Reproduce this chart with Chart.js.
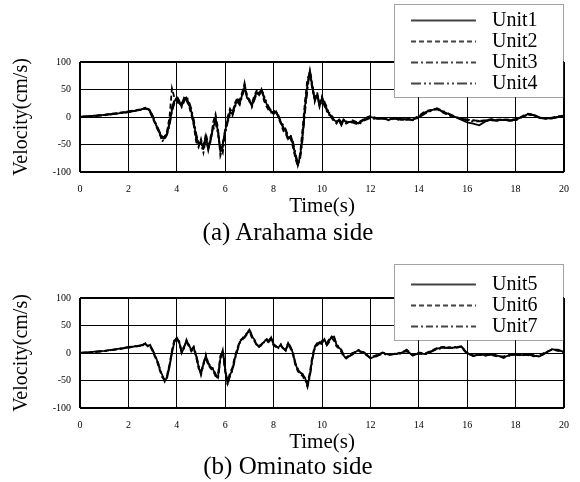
<!DOCTYPE html>
<html>
<head>
<meta charset="utf-8">
<script src="https://cdn.jsdelivr.net/npm/chart.js@4/dist/chart.umd.min.js"></script>
<style>
  body { margin: 0; background: #fff; }
  #page { position: relative; width: 580px; height: 482px; }
  .box { position: absolute; left: 0; width: 580px; }
  .cap { position: absolute; left: 0; width: 576px; text-align: center;
         font: 25px "Liberation Serif", serif; line-height: 30px; color: #000; }
</style>
</head>
<body>
<div id="page">
  <div class="box" style="top:0;height:236px"><canvas id="chartA"></canvas></div>
  <div class="cap" style="top:217px">(a) Arahama side</div>
  <div class="box" style="top:236px;height:246px"><canvas id="chartB"></canvas></div>
  <div class="cap" style="top:451px">(b) Ominato side</div>
</div>
<script>
// time axis (s)
const time = [0,0.5,1,1.5,2,2.5,
  2.6,2.7,2.8,2.9,3,3.1,3.2,3.3,3.4,3.5,
  3.6,3.7,3.8,3.9,4,4.1,4.2,4.3,4.4,4.5,
  4.6,4.7,4.8,4.9,5,5.1,5.2,5.3,5.4,5.5,
  5.6,5.7,5.8,5.9,6,6.1,6.2,6.3,6.4,6.5,
  6.6,6.7,6.8,6.9,7,7.1,7.2,7.3,7.4,7.5,
  7.6,7.7,7.8,7.9,8,8.1,8.2,8.3,8.4,8.5,
  8.6,8.7,8.8,8.9,9,9.1,9.2,9.3,9.4,9.5,
  9.6,9.7,9.8,9.9,10,10.1,10.2,10.3,10.4,10.5,
  10.6,10.7,10.8,10.9,11,
  11.25,11.5,11.75,12,12.25,12.5,12.75,13,13.25,13.5,13.75,14,14.25,14.5,14.75,15,15.25,15.5,
  15.75,16,16.25,16.5,16.75,17,17.25,17.5,17.75,18,18.25,18.5,18.75,19,19.25,19.5,19.75,20];

// Arahama side velocities (cm/s)
const unit1 = [0,2,4,6,9,13,
  15,16,15,10,0,-10,-20,-30,-38,-35,
  -30,-12,12,28,35,25,20,30,35,25,
  10,-10,-35,-50,-45,-55,-35,-60,-40,-20,
  -5,-25,-62,-50,-25,-5,10,5,20,30,
  25,40,55,35,30,20,35,45,40,50,
  35,25,15,10,5,10,0,-10,-20,-25,
  -40,-35,-50,-70,-88,-70,-30,20,60,82,
  55,30,40,20,35,25,15,5,0,-5,
  -10,-5,-15,-5,-10,
  -8,-12,-5,0,-3,-2,-5,-2,-5,-4,-5,0,8,12,15,10,5,0,-5,-10,-12,-15,-8,-5,-6,-5,-6,-5,0,5,3,-2,-3,-2,0,2];
const unit2 = [0,2,4,7,10,14,
  16,15,14,8,-2,-12,-22,-32,-42,-38,
  -25,0,52,35,30,22,25,32,30,20,
  5,-15,-45,-55,-40,-60,-30,-50,-45,-10,
  5,-20,-70,-55,-20,0,15,8,25,35,
  30,45,58,40,28,25,38,48,42,52,
  30,20,12,8,10,12,-2,-12,-25,-30,
  -42,-38,-55,-75,-90,-65,-20,30,70,80,
  50,35,38,25,38,20,10,8,-2,-8,
  -12,-3,-10,-8,-12,
  -6,-10,-3,2,-2,-3,-4,-1,-4,-5,-4,2,10,13,14,8,3,-1,-4,-5,-6,-7,-6,-4,-5,-4,-5,-4,1,6,4,-1,-3,-1,1,3];
const unit3 = [0,1,3,6,9,13,
  15,17,16,12,3,-8,-18,-28,-35,-40,
  -32,-15,10,25,38,30,18,28,38,28,
  15,-5,-30,-48,-50,-52,-40,-58,-35,-25,
  -10,-30,-55,-65,-30,-10,5,2,18,28,
  22,38,50,38,32,18,30,42,45,48,
  38,28,18,12,8,5,3,-8,-15,-22,
  -35,-40,-45,-65,-85,-75,-40,10,50,85,
  60,28,42,18,30,28,18,3,2,-3,
  -8,-8,-12,-3,-8,
  -10,-14,-6,-2,-4,-2,-6,-3,-6,-3,-6,-1,6,11,16,11,6,1,-3,-6,-8,-8,-7,-6,-7,-5,-7,-6,-1,4,3,-1,-2,-3,0,2];
const unit4 = [0,2,4,6,10,13,
  14,16,15,11,1,-10,-20,-30,-45,-36,
  -28,-10,18,30,32,28,22,35,32,22,
  8,-12,-40,-45,-50,-65,-38,-55,-42,-15,
  0,-28,-60,-48,-28,-8,8,6,22,32,
  28,42,62,36,30,22,32,45,38,50,
  40,22,15,10,6,8,2,-10,-18,-28,
  -38,-32,-48,-68,-86,-72,-35,15,58,84,
  55,32,45,22,32,22,12,6,0,-6,
  -10,-6,-14,-6,-10,
  -8,-11,-4,1,-3,-3,-5,-2,-4,-4,-5,0,8,12,15,9,4,0,-3,-5,-6,-7,-6,-5,-6,-5,-6,-5,0,5,4,-1,-3,-2,0,2];

// Ominato side velocities (cm/s)
const unit5 = [0,2,4,7,10,14,
  15,17,12,15,5,-5,-15,-30,-40,-50,
  -45,-25,0,20,28,20,0,10,22,15,
  5,10,-5,-25,-38,-20,-5,-20,-25,-30,
  -40,-45,-10,5,-30,-55,-40,-30,-10,5,
  20,25,30,35,42,30,25,15,12,15,
  20,25,20,28,15,12,10,15,8,5,
  18,10,0,-20,-30,-35,-40,-45,-60,-40,
  -10,10,15,20,18,25,15,22,30,28,
  15,10,5,-5,-10,
  -2,5,0,-10,-5,0,-3,-2,0,5,-5,0,-2,3,8,10,9,10,12,0,-5,-3,-4,-3,-5,-8,-4,-3,-4,-3,-5,-6,0,7,5,2];
const unit6 = [0,1,4,6,10,13,
  16,16,13,12,3,-7,-18,-32,-44,-48,
  -40,-20,5,24,26,18,3,12,20,12,
  3,8,-8,-28,-35,-18,-8,-22,-28,-33,
  -42,-40,-5,2,-35,-52,-36,-26,-6,8,
  22,26,32,36,40,28,22,14,13,16,
  22,24,18,26,14,11,12,14,6,6,
  15,8,-3,-22,-33,-38,-42,-50,-55,-35,
  -5,12,18,16,22,20,18,25,28,22,
  12,8,2,-8,-8,
  0,4,-2,-8,-4,1,-2,-3,1,3,-4,1,-1,4,9,11,10,9,11,-2,-4,-4,-3,-4,-6,-6,-3,-4,-3,-4,-6,-4,2,6,4,1];
const unit7 = [0,2,3,7,11,14,
  14,18,14,13,6,-4,-14,-28,-42,-52,
  -42,-22,2,22,27,22,2,8,24,14,
  6,12,-3,-22,-40,-22,-3,-18,-24,-28,
  -38,-48,-12,4,-28,-58,-42,-32,-12,4,
  18,24,28,34,44,32,24,16,11,14,
  19,26,22,29,16,13,9,16,9,4,
  19,11,1,-18,-28,-36,-38,-48,-62,-42,
  -12,8,14,18,16,24,14,20,31,30,
  16,11,6,-4,-9,
  -3,6,1,-9,-6,-1,-4,-1,-1,6,-4,-1,-3,2,7,9,10,11,12,1,-6,-2,-5,-2,-4,-9,-5,-2,-5,-2,-4,-7,1,6,6,2];

const xTicks = [0,2,4,6,8,10,12,14,16,18,20];
const yTicks = [-100,-50,0,50,100];

const dashes = {
  solid: [],
  dash: [5, 3],
  dashDot: [7, 3, 2, 3],
  dashDotDot: [10, 3, 2, 3, 2, 3]
};

const serif = '"Liberation Serif", "Times New Roman", serif';

function series(label, values, dash) {
  return {
    label: label,
    data: values.map((v, i) => ({ x: time[i], y: v })),
    borderColor: '#000',
    borderWidth: 1.8,
    borderDash: dash,
    pointRadius: 0,
    tension: 0,
    fill: false
  };
}

// dotted legend box drawn over the plot, like in the paper figure
const boxLegend = {
  id: 'boxLegend',
  afterDraw(chart, args, opts) {
    const ctx = chart.ctx;
    ctx.save();
    ctx.fillStyle = '#fff';
    ctx.fillRect(opts.x, opts.y, opts.w, opts.h);
    ctx.strokeStyle = '#444';
    ctx.lineWidth = 1;
    ctx.setLineDash([1, 1]);
    ctx.strokeRect(opts.x + 0.5, opts.y + 0.5, opts.w, opts.h);
    ctx.font = '20px ' + serif;
    ctx.fillStyle = '#000';
    ctx.textBaseline = 'middle';
    chart.data.datasets.forEach((ds, i) => {
      const y = opts.row0 + i * opts.gap;
      ctx.setLineDash(ds.borderDash);
      ctx.lineWidth = 2;
      ctx.beginPath();
      ctx.moveTo(opts.x + 17, y + 0.5);
      ctx.lineTo(opts.x + 82, y + 0.5);
      ctx.stroke();
      ctx.fillText(ds.label, opts.x + 98, y + 1);
    });
    ctx.restore();
  }
};

function makeChart(id, height, datasets, legend) {
  return new Chart(document.getElementById(id), {
    type: 'line',
    data: { datasets: datasets },
    plugins: [boxLegend],
    options: {
      responsive: true,
      maintainAspectRatio: false,
      animation: false,
      layout: { padding: { top: 62, right: 9, left: 0, bottom: height - 222 } },
      plugins: {
        legend: { display: false },
        tooltip: { enabled: false },
        boxLegend: legend
      },
      scales: {
        x: {
          type: 'linear',
          min: 0, max: 20,
          afterBuildTicks: s => { s.ticks = xTicks.map(v => ({ value: v })); },
          afterFit: s => { s.height = 50; },
          ticks: { color: '#000', padding: 11, maxRotation: 0, font: { family: serif, size: 10 } },
          grid: {
            color: '#000',
            drawTicks: false,
            lineWidth: c => (c.tick && (c.tick.value === 0 || c.tick.value === 20)) ? 2 : 1
          },
          border: { display: false },
          title: { display: true, text: 'Time(s)', color: '#000',
                   font: { family: serif, size: 21 }, padding: { top: 0, bottom: 3 } }
        },
        y: {
          min: -100, max: 100,
          afterBuildTicks: s => { s.ticks = yTicks.map(v => ({ value: v })); },
          afterFit: s => { s.width = 80; },
          ticks: { color: '#000', padding: 9, font: { family: serif, size: 10 } },
          grid: {
            color: '#000',
            drawTicks: false,
            lineWidth: c => (c.tick && (c.tick.value === 100 || c.tick.value === -100)) ? 2 : 1
          },
          border: { display: false },
          title: { display: true, text: 'Velocity(cm/s)', color: '#000',
                   font: { family: serif, size: 20 }, padding: { top: 10, bottom: 0 } }
        }
      }
    }
  });
}

makeChart('chartA', 236, [
  series('Unit1', unit1, dashes.solid),
  series('Unit2', unit2, dashes.dash),
  series('Unit3', unit3, dashes.dashDot),
  series('Unit4', unit4, dashes.dashDotDot)
], { x: 394, y: 4, w: 169, h: 93, row0: 20, gap: 21 });

makeChart('chartB', 246, [
  series('Unit5', unit5, dashes.solid),
  series('Unit6', unit6, dashes.dash),
  series('Unit7', unit7, dashes.dashDot)
], { x: 394, y: 28, w: 169, h: 76, row0: 48, gap: 21 });
</script>
</body>
</html>
